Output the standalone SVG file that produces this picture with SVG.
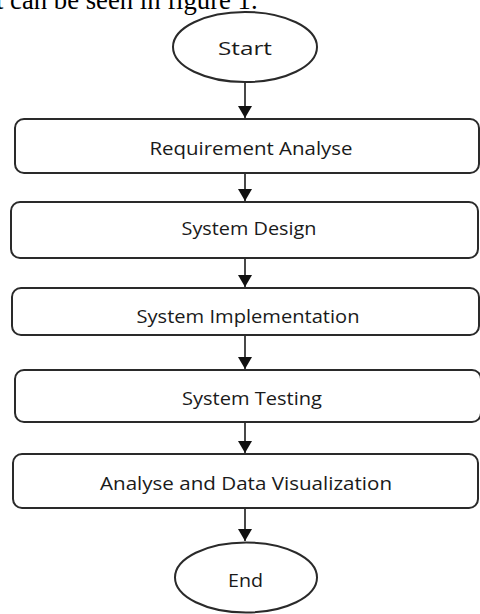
<svg xmlns="http://www.w3.org/2000/svg" width="480" height="614" viewBox="0 0 480 614">
<style>
.cap{font-family:"Liberation Serif","Times New Roman",serif;font-size:26.7px;fill:#000}
.node{fill:#fff;stroke:#2a2a2a;stroke-width:2}
.lbl{font-family:"Open Sans","Noto Sans","DejaVu Sans",sans-serif;font-size:18px;fill:#1a1a1a;text-anchor:middle}
.conn{stroke:#1a1a1a;stroke-width:1.6;fill:none;marker-end:url(#ah)}
</style>
<defs>
<marker id="ah" markerUnits="userSpaceOnUse" markerWidth="12" markerHeight="14" refX="12" refY="7" orient="auto" viewBox="0 0 12 14">
<path d="M0,0 L12,7 L0,14 Z" fill="#111"/>
</marker>
</defs>
<rect width="480" height="614" fill="#fff"/>
<text class="cap" x="-4" y="9">t can be seen in figure 1.</text>
<g id="connectors">
<line class="conn" x1="245" y1="82" x2="245" y2="118"/>
<line class="conn" x1="245" y1="173" x2="245" y2="201"/>
<line class="conn" x1="245" y1="258" x2="245" y2="287"/>
<line class="conn" x1="245" y1="335" x2="245" y2="369"/>
<line class="conn" x1="245" y1="422" x2="245" y2="453"/>
<line class="conn" x1="245" y1="508" x2="245" y2="541"/>
</g>
<g id="start">
<ellipse class="node" cx="245" cy="47" rx="72" ry="35"/>
<text class="lbl" x="245" y="55" textLength="54" lengthAdjust="spacingAndGlyphs">Start</text>
</g>
<g id="requirement">
<rect class="node" x="15" y="119" width="464" height="54" rx="9"/>
<text class="lbl" x="251" y="155" textLength="203" lengthAdjust="spacingAndGlyphs">Requirement Analyse</text>
</g>
<g id="design">
<rect class="node" x="11" y="202" width="467" height="56" rx="9"/>
<text class="lbl" x="249" y="235" textLength="135" lengthAdjust="spacingAndGlyphs">System Design</text>
</g>
<g id="implementation">
<rect class="node" x="12" y="288" width="467" height="47" rx="9"/>
<text class="lbl" x="248" y="323" textLength="223" lengthAdjust="spacingAndGlyphs">System Implementation</text>
</g>
<g id="testing">
<rect class="node" x="15" y="370" width="466" height="52" rx="9"/>
<text class="lbl" x="252" y="405" textLength="140" lengthAdjust="spacingAndGlyphs">System Testing</text>
</g>
<g id="analyse">
<rect class="node" x="13" y="454" width="465" height="54" rx="9"/>
<text class="lbl" x="246" y="490" textLength="292" lengthAdjust="spacingAndGlyphs">Analyse and Data Visualization</text>
</g>
<g id="end">
<ellipse class="node" cx="246" cy="577.5" rx="71" ry="35"/>
<text class="lbl" x="245.5" y="587" textLength="35" lengthAdjust="spacingAndGlyphs">End</text>
</g>
</svg>
